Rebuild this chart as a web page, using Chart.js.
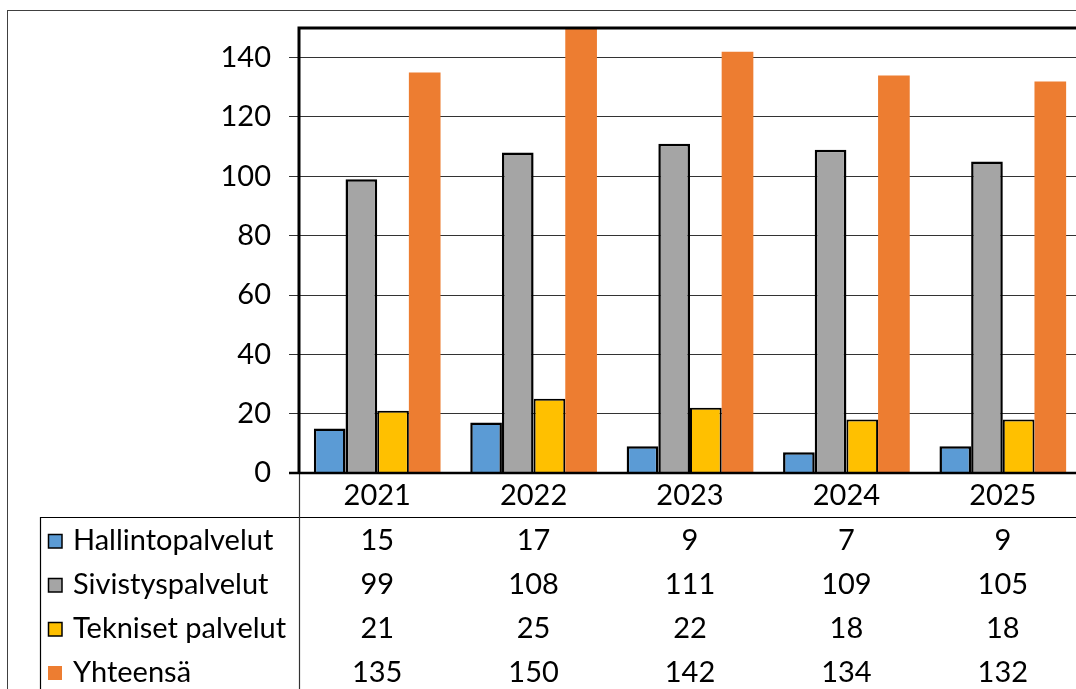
<!DOCTYPE html>
<html>
<head>
<meta charset="utf-8">
<script src="https://cdn.jsdelivr.net/npm/chart.js@4.4.0/dist/chart.umd.min.js"></script>
<style>
  html, body { margin: 0; padding: 0; background: #fff; overflow: hidden; }
  #wrap { width: 1076px; height: 689px; overflow: hidden; position: relative; }
  #box { width: 1090px; height: 689px; position: absolute; left: 0; top: 0; }
</style>
</head>
<body>
<div id="wrap"><div id="box"><canvas id="c"></canvas></div></div>
<script>
const categories = ['2021', '2022', '2023', '2024', '2025'];
const seriesNames = ['Hallintopalvelut', 'Sivistyspalvelut', 'Tekniset palvelut', 'Yhteensä'];
const hallinto = [15, 17, 9, 7, 9];
const sivistys = [99, 108, 111, 109, 105];
const tekniset = [21, 25, 22, 18, 18];
const yhteensa = [135, 150, 142, 134, 132];
const yTicks = [0, 20, 40, 60, 80, 100, 120, 140];

const colors = ['#5B9BD5', '#A5A5A5', '#FFC000', '#ED7D31'];
const borders = [2.5, 2.5, 2, 0];
const allSeries = [hallinto, sivistys, tekniset, yhteensa];
const FONT = '29px Lato';

const tablePlugin = {
  id: 'tablePlugin',
  afterDatasetsDraw(chart) {
    const ctx = chart.ctx;
    const ca = chart.chartArea;
    const xs = chart.scales.x;
    ctx.save();
    // outer chart border
    ctx.strokeStyle = '#404040';
    ctx.lineWidth = 1;
    ctx.strokeRect(7.5, 10.5, 3000, 3000);
    // table lines
    ctx.strokeStyle = '#000';
    ctx.lineWidth = 1.2;
    ctx.beginPath();
    ctx.moveTo(40, 517.5); ctx.lineTo(3000, 517.5);
    ctx.moveTo(40.5, 517); ctx.lineTo(40.5, 700);
    ctx.stroke();
    ctx.strokeStyle = '#333';
    ctx.beginPath();
    ctx.moveTo(299.5, ca.bottom); ctx.lineTo(299.5, 700);
    ctx.stroke();
    // plot borders
    ctx.strokeStyle = '#000';
    ctx.lineWidth = 3;
    ctx.beginPath();
    ctx.moveTo(ca.left, ca.top); ctx.lineTo(3000, ca.top);
    ctx.moveTo(ca.left, ca.top - 1.5); ctx.lineTo(ca.left, ca.bottom + 1);
    ctx.stroke();
    ctx.lineWidth = 2.5;
    ctx.beginPath();
    ctx.moveTo(289, ca.bottom); ctx.lineTo(3000, ca.bottom);
    ctx.stroke();
    // year labels
    ctx.fillStyle = '#000';
    ctx.font = FONT;
    ctx.textAlign = 'center';
    ctx.textBaseline = 'middle';
    categories.forEach((c, i) => {
      ctx.fillText(c, xs.getPixelForValue(i), 496);
    });
    // rows
    const rowY = [541, 585, 629, 673];
    seriesNames.forEach((name, r) => {
      const y = rowY[r];
      // legend key
      ctx.fillStyle = colors[r];
      ctx.fillRect(48, y - 7, 14, 14);
      if (r < 3) {
        ctx.strokeStyle = '#000';
        ctx.lineWidth = 1.5;
        ctx.strokeRect(48.5, y - 6.5, 13.5, 13.5);
      }
      ctx.fillStyle = '#000';
      ctx.textAlign = 'left';
      ctx.fillText(name, 73, y);
      ctx.textAlign = 'center';
      allSeries[r].forEach((v, i) => {
        ctx.fillText(String(v), xs.getPixelForValue(i), y);
      });
    });
    ctx.restore();
  }
};

new Chart(document.getElementById('c'), {
  type: 'bar',
  data: {
    labels: categories,
    datasets: allSeries.map((d, i) => ({
      label: seriesNames[i],
      data: d,
      backgroundColor: colors[i],
      borderColor: '#000',
      borderWidth: borders[i],
      categoryPercentage: 0.81,
      barPercentage: 1.0
    }))
  },
  options: {
    responsive: true,
    maintainAspectRatio: false,
    animation: false,
    events: [],
    layout: { padding: { left: 0, top: 28, right: 9, bottom: 216 } },
    plugins: { legend: { display: false }, tooltip: { enabled: false } },
    scales: {
      x: { display: false },
      y: {
        min: 0, max: 150,
        afterBuildTicks(axis) { axis.ticks = yTicks.map(v => ({ value: v })); },
        afterFit(scale) { scale.width = 299; scale.paddingTop = 0; scale.paddingBottom = 0; },
        border: { display: false },
        grid: { color: '#333', lineWidth: 1, tickLength: 10, drawTicks: true },
        ticks: { color: '#000', font: { family: 'Lato', size: 29 }, padding: 18 }
      }
    }
  },
  plugins: [tablePlugin]
});
</script>
</body>
</html>
